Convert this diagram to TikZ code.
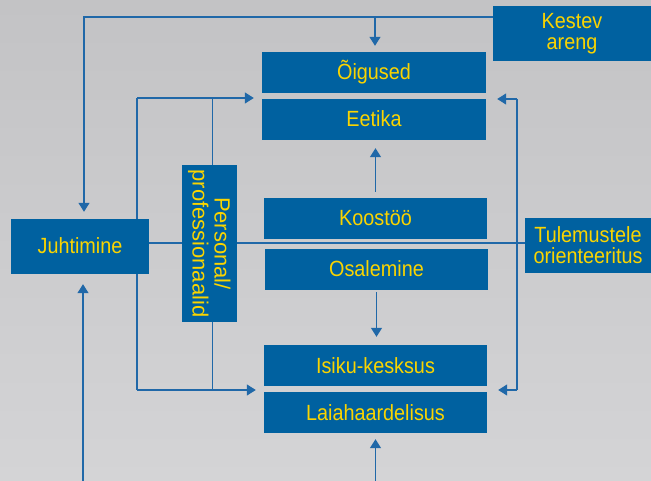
\documentclass[tikz,border=0pt]{standalone}
\usepackage{fontspec}
\setmainfont{Liberation Sans}
\newfontfamily\boxfont{Liberation Sans}[FakeStretch=0.9]
\usetikzlibrary{arrows.meta}
\definecolor{boxblue}{HTML}{0061A0}
\definecolor{lineblue}{HTML}{2068A8}
\definecolor{txtyellow}{HTML}{FAD400}
\definecolor{bgtop}{HTML}{C3C3C5}
\definecolor{bgbot}{HTML}{D4D4D6}
\pgfdeclarelayer{back}
\pgfsetlayers{back,main}
\tikzset{
	box/.style={fill=boxblue, text=txtyellow, inner sep=0pt, align=center,
		text height=17pt, text depth=2pt, font=\boxfont\fontsize{22}{21}\selectfont},
	twoline/.style={text height={}, text depth={}},
	link/.style={draw=lineblue, line width=1.4pt},
	arr/.style={link, -{Triangle[length=9pt,width=11pt]}},
}

\begin{document}
\begin{tikzpicture}[x=1pt,y=-1pt]
	\useasboundingbox (0,0) rectangle (651,481);
	% boxes
	\node[box, twoline, minimum width=158pt, minimum height=55pt] (kestev) at (572,33.5) {Kestev\\areng};
	\node[box, minimum width=224pt, minimum height=41pt] (oigused) at (374,72.5) {Õigused};
	\node[box, minimum width=224pt, minimum height=41pt] (eetika) at (374,119.5) {Eetika};
	\node[box, minimum width=138pt, minimum height=55pt] (juhtimine) at (80,246.5) {Juhtimine};
	\node[box, twoline, rotate=-90, minimum width=157pt, minimum height=54.5pt,
		font=\fontsize{22}{22}\selectfont] (personal) at (209.25,243.5) {Personal/\\professionaalid};
	\node[box, minimum width=223pt, minimum height=41pt] (koostoo) at (375.5,218.5) {Koostöö};
	\node[box, minimum width=223pt, minimum height=41pt] (osalemine) at (376.5,269.5) {Osalemine};
	\node[box, twoline, minimum width=126pt, minimum height=55pt] (tulem) at (588,245.5) {Tulemustele\\orienteeritus};
	\node[box, minimum width=223pt, minimum height=41pt] (isiku) at (375.5,365.5) {Isiku-kesksus};
	\node[box, minimum width=223pt, minimum height=41pt] (laia) at (375.5,412.5) {Laiahaardelisus};
	\coordinate (topbar) at (375,17);
	\coordinate (mid) at (0,243);
	\coordinate (bot) at (0,481);
	\coordinate (lt) at (137,98);
	\coordinate (lb) at (137,390);
	\coordinate (rt) at (517,99);
	\coordinate (rb) at (517,390);
	\begin{pgfonlayer}{back}
		\shade[top color=bgtop, bottom color=bgbot] (0,0) rectangle (651,481);
		\draw[arr, shorten >=7pt] (kestev.west |- topbar) -| ([xshift=4pt]juhtimine.north);
		\draw[arr, shorten >=6pt] (topbar) -- (topbar |- oigused.north);
		\draw[link] (juhtimine.east |- mid) -- (tulem.west |- mid);
		% left bracket
		\draw[link] (lt) -- (lb);
		\draw[link] ([xshift=3pt]personal.center |- lt) -- ([xshift=3pt]personal.center |- lb);
		\draw[arr, shorten >=8pt] (lt) -- (eetika.west |- lt);
		\draw[arr, shorten >=8pt] (lb) -- (isiku.west |- lb);
		% right bracket
		\draw[link] (rt) -- (rb);
		\draw[arr, shorten >=11pt] (rt) -- (eetika.east |- rt);
		\draw[arr, shorten >=11pt] (rb) -- (isiku.east |- rb);
		% middle column
		\draw[arr, shorten <=6pt, shorten >=8pt] (koostoo.north) -- (koostoo.north |- eetika.south);
		\draw[arr, shorten <=2pt, shorten >=8pt] (osalemine.south) -- (osalemine.south |- isiku.north);
		\draw[arr, shorten >=6pt] (laia.south |- bot) -- (laia.south);
		\draw[arr, shorten >=10pt] ([xshift=3pt]juhtimine.south |- bot) -- ([xshift=3pt]juhtimine.south);
	\end{pgfonlayer}
\end{tikzpicture}
\end{document}
